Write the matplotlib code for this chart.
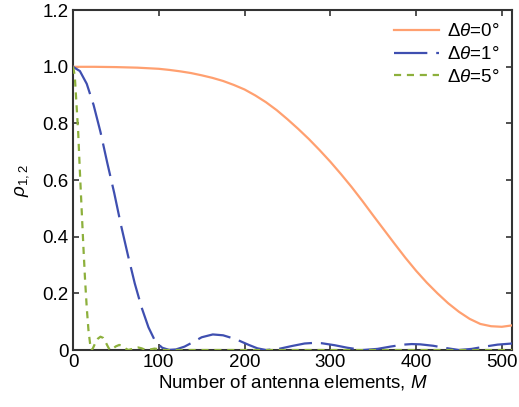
import matplotlib
matplotlib.use('Agg')
import matplotlib.pyplot as plt

orange_m = [0, 12.5, 25, 37.5, 50, 62.5, 75, 87.5, 100, 112.5, 125, 137.5, 150, 162.5,
            175, 187.5, 200, 212.5, 225, 237.5, 250, 262.5, 275, 287.5, 300, 312.5,
            325, 337.5, 350, 362.5, 375, 387.5, 400, 412.5, 425, 437.5, 450, 462.5,
            475, 487.5, 500, 512]
orange_rho = [1.0, 1.0, 1.0, 0.9995, 0.999, 0.998, 0.997, 0.995, 0.993, 0.989, 0.984,
              0.978, 0.97, 0.961, 0.95, 0.936, 0.92, 0.899, 0.875, 0.847, 0.815,
              0.781, 0.745, 0.706, 0.665, 0.621, 0.575, 0.526, 0.475, 0.425, 0.375,
              0.326, 0.28, 0.238, 0.2, 0.165, 0.135, 0.11, 0.092, 0.084, 0.082, 0.087]

blue_m = [0, 8, 16, 24, 32, 40, 48, 56, 64, 72, 80, 88, 96, 104, 112, 120, 130, 140,
          150, 163, 175, 190, 205, 215, 225, 240, 255, 270, 280, 290, 305, 320, 338,
          355, 370, 385, 395, 405, 420, 435, 450, 465, 480, 495, 512]
blue_rho = [1.0, 0.985, 0.94, 0.865, 0.77, 0.66, 0.555, 0.44, 0.335, 0.235, 0.15,
            0.08, 0.03, 0.008, 0.0005, 0.002, 0.012, 0.028, 0.045, 0.055, 0.052,
            0.038, 0.018, 0.006, 0.0, 0.004, 0.014, 0.023, 0.025, 0.024, 0.017,
            0.008, 0.0, 0.004, 0.012, 0.019, 0.021, 0.02, 0.015, 0.007, 0.0, 0.004,
            0.012, 0.019, 0.023]

green_m = [0, 2, 4, 6, 8, 10, 12, 14, 16, 18, 20, 21.5, 23, 26, 29, 32, 35, 38, 41,
           43, 46, 50, 54, 58, 62, 64.5, 68, 72, 76, 80, 84, 86, 90, 95, 100, 107,
           120, 512]
green_rho = [1.0, 0.97, 0.87, 0.77, 0.63, 0.5, 0.37, 0.25, 0.15, 0.07, 0.02, 0.0,
             0.005, 0.025, 0.04, 0.047, 0.043, 0.028, 0.01, 0.0, 0.004, 0.013, 0.018,
             0.013, 0.004, 0.0, 0.003, 0.007, 0.009, 0.006, 0.001, 0.0, 0.002, 0.005,
             0.003, 0.0, 0.0, 0.0]

labels = [r'$\Delta\theta$=0°', r'$\Delta\theta$=1°', r'$\Delta\theta$=5°']

plt.rcParams['font.family'] = 'Liberation Sans'
plt.rcParams['mathtext.fontset'] = 'custom'
plt.rcParams['mathtext.rm'] = 'Liberation Sans'
plt.rcParams['mathtext.it'] = 'Liberation Sans:italic'
plt.rcParams['font.size'] = 13.5

fig = plt.figure(figsize=(5.19, 4.07), dpi=100)
ax = fig.add_axes([0.1407, 0.14, 0.846, 0.835])

ax.plot(orange_m, orange_rho, color='#FFA070', lw=1.6, label=labels[0], zorder=3)
ax.plot(blue_m, blue_rho, color='#3F4FB0', lw=1.6, dashes=(15, 4), label=labels[1],
        zorder=3)
ax.plot(green_m, green_rho, color='#8DB03C', lw=1.6, dashes=(3.2, 2.6), label=labels[2],
        zorder=3)

ax.set_xlim(0, 512)
ax.set_ylim(0, 1.2)
ax.set_xticks([0, 100, 200, 300, 400, 500])
ax.set_yticks([0, 0.2, 0.4, 0.6, 0.8, 1.0, 1.2])
ax.set_yticklabels(['0', '0.2', '0.4', '0.6', '0.8', '1.0', '1.2'])
ax.tick_params(direction='in', top=True, right=True, length=4, width=1.2,
               color='#333333', pad=3)
for s in ax.spines.values():
    s.set_linewidth(1.5)
    s.set_color('#333333')

ax.set_xlabel('Number of antenna elements, $M$', labelpad=1)
ax.set_ylabel(r'$\rho_{1,2}$', labelpad=8)

ax.legend(loc='upper right', frameon=False, handlelength=2.4, labelspacing=0.3,
          handletextpad=0.4, borderaxespad=0.3)

fig.savefig('out.png', dpi=100)
